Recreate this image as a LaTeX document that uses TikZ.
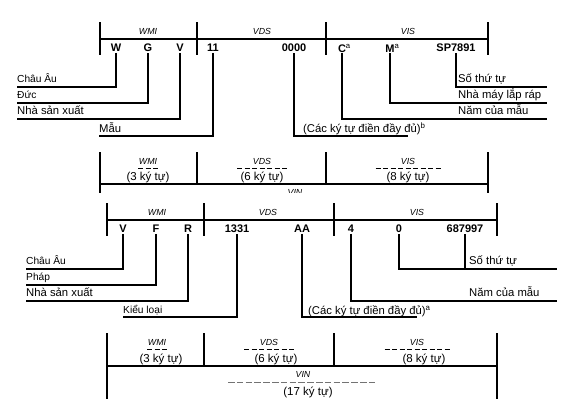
\documentclass[tikz,border=0pt]{standalone}
\usepackage{fontspec}
\setmainfont{Liberation Sans}
\usetikzlibrary{positioning}
\tikzset{
  bar/.style={line width=1.7pt},
  lead/.style={line width=1.2pt},
  chr/.style={font=\fontsize{11}{13}\selectfont\bfseries, inner sep=1pt},
  hdr/.style={font=\fontsize{8.8}{10}\selectfont\itshape, inner sep=0pt},
  cnt/.style={font=\fontsize{11.5}{13}\selectfont, inner sep=0pt, anchor=base},
  lbl/.style={font=\fontsize{11.3}{13}\selectfont, inner sep=0pt, anchor=base west},
  lbls/.style={font=\fontsize{10.2}{12}\selectfont, inner sep=0pt, anchor=base west},
  dsh/.style={line width=0.8pt, dash pattern=on 5pt off 2.5pt},
}
\newcommand{\notemark}[1]{\rlap{\textsuperscript{\mdseries #1}}}

\begin{document}
\begin{tikzpicture}[x=1pt, y=-1pt]
  \useasboundingbox (0,0) rectangle (575,416);

  % first VIN: WGV 11 0000 ...
  \draw[bar] (100,22) -- (100,55) (197,22) -- (197,55) (326,22) -- (326,55)
    (488,22) -- (488,55) (100,39) -- (488,39);
  \node[hdr] (tWMI) at (148,31) {WMI};
  \node[hdr] (tVDS) at (262,31) {VDS};
  \node[hdr] (tVIS) at (408,31) {VIS};

  \node[chr] (tW) at (116,48) {W};
  \node[chr] (tG) at (148,48) {G};
  \node[chr] (tV) at (180,48) {V};
  \node[chr] (t11) at (213,48) {11};
  \node[chr] (t0) at (294,48) {0000};
  \node[chr] (tC) at (342,48) {C\notemark{a}};
  \node[chr] (tM) at (390,48) {M\notemark{a}};
  \node[chr] (tSP) at (456,48) {SP7891};

  \coordinate (teW) at (17,87);
  \coordinate (teG) at (17,103);
  \coordinate (teV) at (17,119);
  \coordinate (te11) at (99,136);
  \coordinate (te0) at (408,136);
  \coordinate (teC) at (547,119);
  \coordinate (teM) at (547,103);
  \coordinate (teSP) at (547,87);

  \draw[lead] (tW.south) |- (teW);
  \draw[lead] (tG.south) |- (teG);
  \draw[lead] (tV.south) |- (teV);
  \draw[lead] (t11.south) |- (te11);
  \draw[lead] (t0.south) |- (te0);
  \draw[lead] (tC.south) |- (teC);
  \draw[lead] (tM.south) |- (teM);
  \draw[lead] (tSP.south) |- (teSP);

  \node[lbls] (tlW) at (17,82.5) {Châu Âu};
  \node[lbls] (tlG) at (17,98.5) {Đức};
  \node[lbl] (tlV) at (17,114.5) {Nhà sản xuất};
  \node[lbl] (tl11) at (99,132) {Mẫu};
  \node[lbl] (tl0) at (303,132) {(Các ký tự điền đầy đủ)\notemark{b}};
  \node[lbl] (tlSP) at (458,82.5) {Số thứ tự};
  \node[lbl] (tlM) at (458,98.5) {Nhà máy lắp ráp};
  \node[lbl] (tlC) at (458,114.5) {Năm của mẫu};

  \begin{scope}
    \clip (0,0) rectangle (575,192.5);
    \draw[bar] (100,152) -- (100,195) (197,152) -- (197,184) (326,152) -- (326,184)
      (488,152) -- (488,195) (100,184) -- (488,184);
    \node[hdr, anchor=north] (tcVIN) at (295,189) {VIN};
  \end{scope}
  \node[hdr] (tcWMI) at (148,161) {WMI};
  \node[hdr] (tcVDS) at (262,161) {VDS};
  \node[hdr] (tcVIS) at (408,161) {VIS};
  \draw[dsh] (138,168) -- ++(20,0);
  \draw[dsh] (237,168) -- ++(50,0);
  \draw[dsh] (375.5,168) -- ++(65,0);
  \node[cnt] (tnWMI) at (148,180) {(3 ký tự)};
  \node[cnt] (tnVDS) at (262,180) {(6 ký tự)};
  \node[cnt] (tnVIS) at (408,180) {(8 ký tự)};

  % second VIN: VFR 1331 AA ...
  \draw[bar] (107,203) -- (107,236) (204,203) -- (204,236) (334,203) -- (334,236)
    (497,203) -- (497,236) (107,220) -- (497,220);
  \node[hdr] (bWMI) at (157,212) {WMI};
  \node[hdr] (bVDS) at (268,212) {VDS};
  \node[hdr] (bVIS) at (417,212) {VIS};

  \node[chr] (bV) at (123,229) {V};
  \node[chr] (bF) at (156,229) {F};
  \node[chr] (bR) at (188,229) {R};
  \node[chr] (b1331) at (237,229) {1331};
  \node[chr] (bAA) at (302,229) {AA};
  \node[chr] (b4) at (351,229) {4};
  \node[chr] (b0) at (399,229) {0};
  \node[chr] (bNo) at (465,229) {687997};

  \coordinate (beV) at (26,269);
  \coordinate (beF) at (26,285);
  \coordinate (beR) at (26,301);
  \coordinate (be1331) at (123,317);
  \coordinate (beAA) at (417,317);
  \coordinate (be4) at (557,301);
  \coordinate (be0) at (557,269);

  \draw[lead] (bV.south) |- (beV);
  \draw[lead] (bF.south) |- (beF);
  \draw[lead] (bR.south) |- (beR);
  \draw[lead] (b1331.south) |- (be1331);
  \draw[lead] (bAA.south) |- (beAA);
  \draw[lead] (b4.south) |- (be4);
  \draw[lead] (b0.south) |- (be0);
  \draw[lead] (bNo.south) -- (bNo.south |- be0);

  \node[lbls] (blV) at (26,264.5) {Châu Âu};
  \node[lbls] (blF) at (26,280.5) {Pháp};
  \node[lbl] (blR) at (26,296.5) {Nhà sản xuất};
  \node[lbls] (bl1331) at (123,313) {Kiểu loại};
  \node[lbl] (blAA) at (308,314) {(Các ký tự điền đầy đủ)\notemark{a}};
  \node[lbl] (blNo) at (469,264.5) {Số thứ tự};
  \node[lbl] (bl4) at (469,296.5) {Năm của mẫu};

  \draw[bar] (107,333) -- (107,399) (204,333) -- (204,366) (334,333) -- (334,366)
    (497,333) -- (497,399) (107,366) -- (497,366);
  \node[hdr] (bcWMI) at (157,342) {WMI};
  \node[hdr] (bcVDS) at (269,342) {VDS};
  \node[hdr] (bcVIS) at (417,342) {VIS};
  \node[hdr] (bcVIN) at (303,374) {VIN};
  \draw[dsh] (147,349) -- ++(20,0);
  \draw[dsh] (244,349) -- ++(50,0);
  \draw[dsh] (384.5,349) -- ++(65,0);
  \draw[dsh, black!55, dash pattern=on 6.5pt off 2.3pt] (228,382) -- ++(147,0);
  \node[cnt] (bnWMI) at (161,362) {(3 ký tự)};
  \node[cnt] (bnVDS) at (276,362) {(6 ký tự)};
  \node[cnt] (bnVIS) at (424,362) {(8 ký tự)};
  \node[cnt] (bnVIN) at (308,395.5) {(17 ký tự)};
\end{tikzpicture}
\end{document}
